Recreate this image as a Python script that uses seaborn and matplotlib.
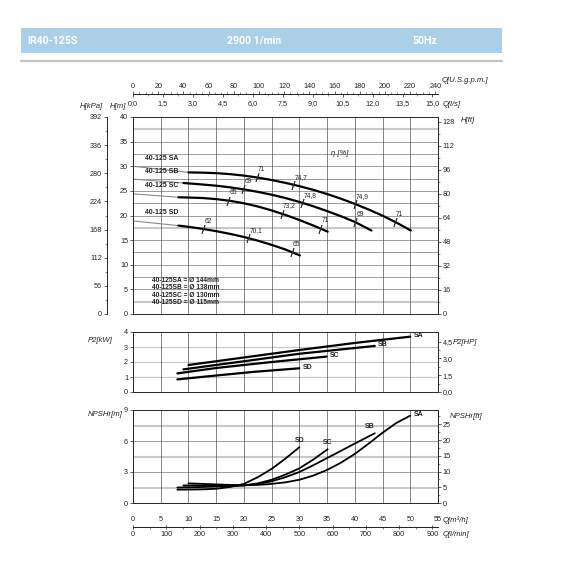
import matplotlib
matplotlib.use("Agg")
import matplotlib.pyplot as plt
from matplotlib.patches import Rectangle
from matplotlib.lines import Line2D
import seaborn as sns
import numpy as np

sns.set_style("ticks")
plt.rcParams['font.family'] = ['Liberation Sans', 'DejaVu Sans']
plt.rcParams['axes.linewidth'] = 0.7

W = 567.0

# header
title_model = 'IR40-125S'
title_speed = '2900 1/min'
title_freq = '50Hz'

# impeller variants
models = ['SA', 'SB', 'SC', 'SD']
diameters = [144, 138, 130, 115]

# head H[m] vs Q[m3/h]; grey part starts at Q=0
h_at_zero = [30.0, 27.4, 24.4, 18.9]
q_sa = [10, 12.5, 15, 17.5, 20, 22.5, 25, 27.5, 30, 32.5, 35, 37.5, 40, 42.5, 45, 47.5, 50.1]
h_sa = [28.75, 28.7, 28.6, 28.4, 28.1, 27.7, 27.2, 26.62, 25.96, 25.21, 24.36, 23.41,
        22.36, 21.21, 19.96, 18.56, 16.96]
q_sb = [9.1, 12.5, 15, 17.5, 20, 22.5, 25, 27.5, 30, 32.5, 35, 37.5, 40, 43]
h_sb = [26.6, 26.3, 26.05, 25.72, 25.3, 24.8, 24.22, 23.54, 22.76, 21.88, 20.9, 19.85, 18.7, 16.95]
q_sc = [8.2, 10, 12.5, 15, 17.5, 20, 22.5, 25, 27.5, 30, 32.5, 35.1]
h_sc = [23.7, 23.65, 23.55, 23.33, 22.98, 22.48, 21.83, 21.03, 20.11, 19.09, 17.97, 16.72]
q_sd = [8.2, 10, 12.5, 15, 17.5, 20, 22.5, 25, 27.5, 30.1]
h_sd = [17.95, 17.7, 17.3, 16.82, 16.27, 15.64, 14.89, 14.04, 13.09, 11.89]

# efficiency marks on the head curves
eta_q_sa = [22.3, 28.9, 40, 47.2]
eta_sa = ['71', '74,7', '74,9', '71']
eta_q_sb = [19.9, 30.5, 40]
eta_sb = ['69', '74,8', '69']
eta_q_sc = [17.2, 26.8, 33.8]
eta_sc = ['65', '73,2', '71']
eta_q_sd = [12.7, 20.8, 28.6]
eta_sd = ['62', '70,1', '65']

# power P2[kW]
pq_sa = [10, 20, 30, 40, 50]
p_sa = [1.8, 2.3, 2.8, 3.27, 3.69]
pq_sb = [9.1, 20, 30, 43.6]
p_sb = [1.51, 2.05, 2.55, 3.07]
pq_sc = [8, 15, 25, 34.9]
p_sc = [1.24, 1.6, 2.0, 2.36]
pq_sd = [8, 15, 22, 30]
p_sd = [0.84, 1.1, 1.35, 1.58]

# NPSHr[m]
nq_sa = [10, 12.5, 15, 17.5, 20, 22.5, 25, 27.5, 30, 32.5, 35, 37.5, 40, 42.5, 45, 47.5, 50]
n_sa = [1.9, 1.85, 1.8, 1.75, 1.72, 1.75, 1.85, 2.0, 2.25, 2.65, 3.2, 3.9, 4.75, 5.75, 6.8, 7.75, 8.45]
nq_sb = [9.1, 12.5, 15, 17.5, 20, 22.5, 25, 27.5, 30, 32.5, 35, 37.5, 40, 43.6]
n_sb = [1.7, 1.69, 1.68, 1.67, 1.7, 1.85, 2.1, 2.5, 3.0, 3.65, 4.35, 5.05, 5.75, 6.75]
nq_sc = [8, 12.5, 15, 17.5, 20, 22.5, 25, 27.5, 30, 32.5, 35.1]
n_sc = [1.5, 1.55, 1.6, 1.64, 1.7, 1.9, 2.25, 2.75, 3.35, 4.2, 5.2]
nq_sd = [8, 12.5, 15, 17.5, 20, 22.5, 25, 27.5, 30]
n_sd = [1.29, 1.32, 1.38, 1.55, 1.85, 2.5, 3.3, 4.3, 5.4]

# axis ticks
gpm_ticks = list(range(0, 241, 20))
ls_ticks = [0, 1.5, 3.0, 4.5, 6.0, 7.5, 9.0, 10.5, 12.0, 13.5, 15.0]
ls_labels = ['0,0', '1,5', '3,0', '4,5', '6,0', '7,5', '9,0', '10,5', '12,0', '13,5', '15,0']
h_ticks = list(range(0, 41, 5))
kpa_ticks = [0, 56, 112, 168, 224, 280, 336, 392]
ft_ticks = [0, 16, 32, 48, 64, 80, 96, 112, 128]
kw_ticks = [0, 1, 2, 3, 4]
hp_ticks = [0, 1.5, 3.0, 4.5]
hp_labels = ['0,0', '1,5', '3,0', '4,5']
npsh_ticks = [0, 3, 6, 9]
npsh_ft_ticks = [0, 5, 10, 15, 20, 25]
q_ticks = list(range(0, 56, 5))
lmin_ticks = list(range(0, 901, 100))

FS = 5.2
TXT = '#222222'


def fx(px):
    return px / W


def fy(py):
    return 1 - py / W


fig = plt.figure(figsize=(5.67, 5.67), dpi=100)

# header band
fig.add_artist(Rectangle((fx(21), fy(53)), fx(502) - fx(21), (53 - 28) / W,
                         transform=fig.transFigure, facecolor='#aacfe6', edgecolor='none'))
fig.add_artist(Line2D([fx(21), fx(502)], [fy(61), fy(61)], transform=fig.transFigure,
                      color='#c4c4c4', lw=1.6))
hdr = dict(color='white', fontsize=7.6, fontweight='bold', family=['Roboto', 'DejaVu Sans'], va='center')
fig.text(fx(27), fy(40.5), title_model, ha='left', **hdr)
fig.text(fx(254), fy(40.5), title_speed, ha='center', **hdr)
fig.text(fx(412), fy(40.5), title_freq, ha='left', **hdr)

ax_h = fig.add_axes([fx(133), fy(314), 305 / W, 197 / W])
ax_p = fig.add_axes([fx(133), fy(392), 305 / W, 60 / W])
ax_n = fig.add_axes([fx(133), fy(503), 305 / W, 93 / W])

for ax in (ax_h, ax_p, ax_n):
    ax.set_xlim(0, 55)
    ax.set_xticks(q_ticks)
    ax.tick_params(axis='x', length=0, labelbottom=False)
    ax.grid(axis='x', color='#555555', lw=0.5)
    ax.tick_params(axis='y', labelsize=FS, length=2, width=0.5, pad=1.5, colors=TXT, right=False)
    for s in ax.spines.values():
        s.set_visible(True)
        s.set_linewidth(0.7)
    ax.set_axisbelow(True)

# --- head chart
ax_h.set_ylim(0, 40)
ax_h.set_yticks(h_ticks)
for yv in np.arange(2.5, 40, 2.5):
    if yv in (2.5, 17.5, 37.5):
        ax_h.axhline(yv, color='#c8c8c8', lw=1.5, zorder=0)
    else:
        ax_h.axhline(yv, color='#666666', lw=0.45, zorder=0)

head_q = [q_sa, q_sb, q_sc, q_sd]
head_h = [h_sa, h_sb, h_sc, h_sd]
eta_q = [eta_q_sa, eta_q_sb, eta_q_sc, eta_q_sd]
eta_l = [eta_sa, eta_sb, eta_sc, eta_sd]
for q, h, h0, eq, el in zip(head_q, head_h, h_at_zero, eta_q, eta_l):
    sns.lineplot(x=[0, q[0]], y=[h0, h[0]], ax=ax_h, color='#8a8a8a', lw=0.8)
    sns.lineplot(x=q, y=h, ax=ax_h, color='black', lw=1.6)
    hq = np.interp(eq, q, h)
    ax_h.plot(eq, hq, ls='none', marker=(2, 2, -20), ms=6.5, mew=0.6, color='#333333')
    for qq, hh, lab in zip(eq, hq, el):
        ax_h.annotate(lab, (qq, hh), xytext=(1, 3), textcoords='offset points',
                      fontsize=4.8, ha='left', va='bottom', color=TXT)

for m, h0 in zip(models, h_at_zero):
    ax_h.text(2.2, h0 + 0.9, f'40-125 {m}', fontsize=5, fontweight='bold',
              ha='left', va='bottom', color=TXT)
for i, (m, d) in enumerate(zip(models, diameters)):
    ax_h.text(3.5, 6.9 - 1.55 * i, f'40-125{m} = Ø {d}mm', fontsize=4.8,
              fontweight='bold', ha='left', va='center', color=TXT)
ax_h.text(37.3, 32.5, 'η [%]', fontsize=5.5, style='italic', ha='center', va='center', color=TXT)

sec_kpa = ax_h.secondary_yaxis(-26 / 305, functions=(lambda m: m * 9.8, lambda k: k / 9.8))
sec_kpa.set_yticks(kpa_ticks)
sec_kpa.set_yticks(np.arange(28, 392, 56), minor=True)
sec_kpa.tick_params(labelsize=FS, length=2, width=0.5, pad=1.5, colors=TXT)
sec_kpa.tick_params(which='minor', length=1.2, width=0.4)

sec_ft = ax_h.secondary_yaxis('right', functions=(lambda m: m * 3.281, lambda f: f / 3.281))
sec_ft.set_yticks(ft_ticks)
sec_ft.set_yticks(np.arange(8, 128, 16), minor=True)
sec_ft.tick_params(labelsize=FS, length=2, width=0.5, pad=1.5, colors=TXT)
sec_ft.tick_params(which='minor', length=1.2, width=0.4)

loc_top = (314 - 94) / 197
sec_gpm = ax_h.secondary_xaxis(loc_top, functions=(lambda q: q * 4.4029, lambda g: g / 4.4029))
sec_gpm.set_xticks(gpm_ticks)
sec_gpm.set_xticks(np.arange(5, 240, 5), minor=True)
sec_gpm.tick_params(labelsize=FS, length=2, width=0.5, pad=0.8, colors=TXT)
sec_gpm.tick_params(which='minor', length=1.2, width=0.4)

sec_ls = ax_h.secondary_xaxis(loc_top, functions=(lambda q: q / 3.6, lambda s: s * 3.6))
sec_ls.set_alignment('bottom')
sec_ls.set_xticks(ls_ticks, labels=ls_labels)
sec_ls.set_xticks(np.arange(0.75, 15, 1.5), minor=True)
sec_ls.tick_params(labelsize=FS, length=2.5, width=0.5, pad=1.5, colors=TXT)
sec_ls.tick_params(which='minor', length=1.2, width=0.4)

# --- power chart
ax_p.set_ylim(0, 4)
ax_p.set_yticks(kw_ticks)
for yv in (1, 2, 3):
    ax_p.axhline(yv, color='#c8c8c8', lw=0.9, zorder=0)
pow_q = [pq_sa, pq_sb, pq_sc, pq_sd]
pow_v = [p_sa, p_sb, p_sc, p_sd]
for m, q, p in zip(models, pow_q, pow_v):
    sns.lineplot(x=q, y=p, ax=ax_p, color='black', lw=1.6)
    ax_p.annotate(m, (q[-1], p[-1]), xytext=(2.5, 0.8), textcoords='offset points',
                  fontsize=5, fontweight='bold', ha='left', va='center', color=TXT)
sec_hp = ax_p.secondary_yaxis('right', functions=(lambda k: k * 1.341, lambda h: h / 1.341))
sec_hp.set_yticks(hp_ticks, labels=hp_labels)
sec_hp.set_yticks([0.75, 2.25, 3.75], minor=True)
sec_hp.tick_params(labelsize=FS, length=2, width=0.5, pad=1.5, colors=TXT)
sec_hp.tick_params(which='minor', length=1.2, width=0.4)

# --- NPSH chart
ax_n.set_ylim(0, 9)
ax_n.set_yticks(npsh_ticks)
for yv in (1.5, 4.5, 7.5):
    ax_n.axhline(yv, color='#c8c8c8', lw=1.5, zorder=0)
for yv in (3, 6):
    ax_n.axhline(yv, color='#666666', lw=0.45, zorder=0)
npsh_q = [nq_sa, nq_sb, nq_sc, nq_sd]
npsh_v = [n_sa, n_sb, n_sc, n_sd]
lab_off = [(2.5, 0.5), (0, 4.5), (0, 5), (0, 5)]
lab_ha = ['left', 'right', 'center', 'center']
for m, q, n, off, ha in zip(models, npsh_q, npsh_v, lab_off, lab_ha):
    sns.lineplot(x=q, y=n, ax=ax_n, color='black', lw=1.3)
    ax_n.annotate(m, (q[-1], n[-1]), xytext=off, textcoords='offset points',
                  fontsize=5, fontweight='bold', ha=ha, va='center', color=TXT)
sec_nft = ax_n.secondary_yaxis('right', functions=(lambda m: m * 3.281, lambda f: f / 3.281))
sec_nft.set_yticks(npsh_ft_ticks)
sec_nft.set_yticks(np.arange(2.5, 28, 5), minor=True)
sec_nft.tick_params(labelsize=FS, length=2, width=0.5, pad=1.5, colors=TXT)
sec_nft.tick_params(which='minor', length=1.2, width=0.4)

loc_bot = (503 - 527) / 93
sec_q = ax_n.secondary_xaxis(loc_bot, functions=(lambda q: q, lambda q: q))
sec_q.set_alignment('top')
sec_q.set_xticks(q_ticks)
sec_q.tick_params(labelsize=FS, length=0, pad=3, colors=TXT)
sec_lmin = ax_n.secondary_xaxis(loc_bot, functions=(lambda q: q * 16.667, lambda l: l / 16.667))
sec_lmin.set_alignment('bottom')
sec_lmin.set_xticks(lmin_ticks)
sec_lmin.set_xticks(np.arange(50, 900, 50), minor=True)
sec_lmin.tick_params(labelsize=FS, length=2.5, width=0.5, pad=1.5, colors=TXT, direction='inout')
sec_lmin.tick_params(which='minor', length=1.5, width=0.4)

for ax in (ax_h, ax_p, ax_n):
    ax.set_xlabel('')
    ax.set_ylabel('')

# axis titles
lab = dict(fontsize=5.6, style='italic', color=TXT, va='center')
fig.text(fx(80), fy(106), 'H[kPa]', ha='left', **lab)
fig.text(fx(110), fy(106), 'H[m]', ha='left', **lab)
fig.text(fx(461), fy(121), 'H[ft]', ha='left', **lab)
fig.text(fx(442), fy(80), 'Q[U.S.g.p.m.]', ha='left', **lab)
fig.text(fx(443), fy(104), 'Q[l/s]', ha='left', **lab)
fig.text(fx(113), fy(340), 'P2[kW]', ha='right', **lab)
fig.text(fx(453), fy(342), 'P2[HP]', ha='left', **lab)
fig.text(fx(123), fy(415), 'NPSHr[m]', ha='right', **lab)
fig.text(fx(450), fy(417), 'NPSHr[ft]', ha='left', **lab)
fig.text(fx(443), fy(520), 'Q[m³/h]', ha='left', **lab)
fig.text(fx(443), fy(534), 'Q[l/min]', ha='left', **lab)

fig.savefig('out.png', dpi=100, facecolor='white')
